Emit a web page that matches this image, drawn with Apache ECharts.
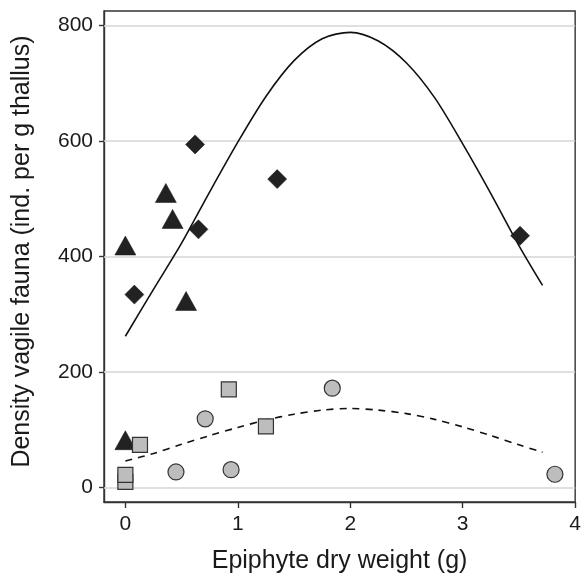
<!DOCTYPE html>
<html>
<head>
<meta charset="utf-8">
<script src="https://cdn.jsdelivr.net/npm/echarts@6/dist/echarts.min.js"></script>
<style>html,body{margin:0;padding:0;background:#fff}#c{width:584px;height:583px}</style>
</head>
<body>
<div id="c"></div>
<script>
// ---- data ----
var xTicks = [0, 1, 2, 3, 4];
var yTicks = [0, 200, 400, 600, 800];

var diamondsX = [0.08, 0.62, 0.65, 1.35, 3.51];
var diamondsY = [334, 594, 447, 534, 436];

var trianglesX = [0, 0, 0.36, 0.42, 0.54];
var trianglesY = [82, 419, 510, 465, 323];

var squaresX = [0, 0, 0.13, 0.92, 1.25];
var squaresY = [10, 22, 74, 170, 106];

var circlesX = [0.45, 0.71, 0.94, 1.84, 3.82];
var circlesY = [27, 119, 31, 172, 23];

var solidCurveX = [0, 0.25, 0.5, 0.75, 1.0, 1.25, 1.5, 1.75, 2.0, 2.25, 2.5, 2.75, 3.0, 3.25, 3.5, 3.71];
var solidCurveY = [262, 343, 423, 512, 598, 677, 739, 777, 788, 773, 735, 675, 595, 509, 419, 350];

var dashCurveX = [0, 0.25, 0.5, 0.75, 1.0, 1.25, 1.5, 1.75, 2.0, 2.25, 2.5, 2.75, 3.0, 3.25, 3.5, 3.71];
var dashCurveY = [46, 59, 75, 90, 104, 117, 127, 134, 137, 134, 128, 118, 105, 90, 74, 61];

function pairs(xs, ys) { return xs.map(function (x, i) { return [x, ys[i]]; }); }

var font = 'Liberation Sans, Arial, sans-serif';
var ink = '#1a1a1a';
var chart = echarts.init(document.getElementById('c'), null, { renderer: 'canvas' });
chart.setOption({
  animation: false,
  backgroundColor: '#ffffff',
  grid: { left: 104, right: 4, top: 11, bottom: 81, show: true, borderColor: '#333', borderWidth: 1.4, backgroundColor: 'transparent' },
  xAxis: {
    type: 'value', min: -0.19, max: 4,
    name: 'Epiphyte dry weight (g)', nameLocation: 'middle', nameGap: 47,
    nameTextStyle: { fontFamily: font, fontSize: 25, color: ink },
    axisLine: { show: true, onZero: false, lineStyle: { color: '#333', width: 1.4 } },
    axisTick: { show: true, length: 6, customValues: xTicks, lineStyle: { color: '#333', width: 1.4 } },
    axisLabel: { customValues: xTicks, margin: 12, fontFamily: font, fontSize: 21, color: ink },
    splitLine: { show: false }
  },
  yAxis: {
    type: 'value', min: -25, max: 825,
    name: 'Density vagile fauna (ind. per g thallus)', nameLocation: 'middle', nameGap: 69,
    nameTextStyle: { fontFamily: font, fontSize: 25, color: ink, padding: [0, 0, 0, 10] },
    axisLine: { show: true, onZero: false, lineStyle: { color: '#333', width: 1.4 } },
    axisTick: { show: true, length: 5, customValues: yTicks, lineStyle: { color: '#333', width: 1.4 } },
    axisLabel: { customValues: yTicks, margin: 11, fontFamily: font, fontSize: 21, color: ink },
    splitLine: { show: false }
  },
  series: [
    {
      type: 'line', silent: true, symbol: 'none', z: 1,
      data: yTicks.map(function (v) { return [-1, v]; }),
      lineStyle: { opacity: 0 },
      markLine: { silent: true, symbol: 'none', z: 1, label: { show: false },
        lineStyle: { color: '#d6d6d6', width: 1.5, type: 'solid' },
        data: yTicks.map(function (v) { return { yAxis: v }; }) }
    },
    { type: 'line', smooth: 0.3, showSymbol: false, z: 3, data: pairs(solidCurveX, solidCurveY), lineStyle: { color: '#111', width: 1.6 } },
    { type: 'line', smooth: 0.3, showSymbol: false, z: 3, data: pairs(dashCurveX, dashCurveY), lineStyle: { color: '#111', width: 1.6, type: [7, 6] } },
    { type: 'scatter', symbol: 'diamond', symbolSize: 19, z: 10, data: pairs(diamondsX, diamondsY), itemStyle: { color: '#222', borderColor: '#111', borderWidth: 0.5, opacity: 1 } },
    { type: 'scatter', symbol: 'triangle', symbolSize: [21, 19], z: 10, data: pairs(trianglesX, trianglesY), itemStyle: { color: '#222', borderColor: '#111', borderWidth: 0.5, opacity: 1 } },
    { type: 'scatter', symbol: 'rect', symbolSize: 15, z: 10, data: pairs(squaresX, squaresY), itemStyle: { color: '#bdbdbd', borderColor: '#333', borderWidth: 1.2, opacity: 1 } },
    { type: 'scatter', symbol: 'circle', symbolSize: 16, z: 10, data: pairs(circlesX, circlesY), itemStyle: { color: '#bdbdbd', borderColor: '#333', borderWidth: 1.2, opacity: 1 } }
  ]
});
</script>
</body>
</html>
